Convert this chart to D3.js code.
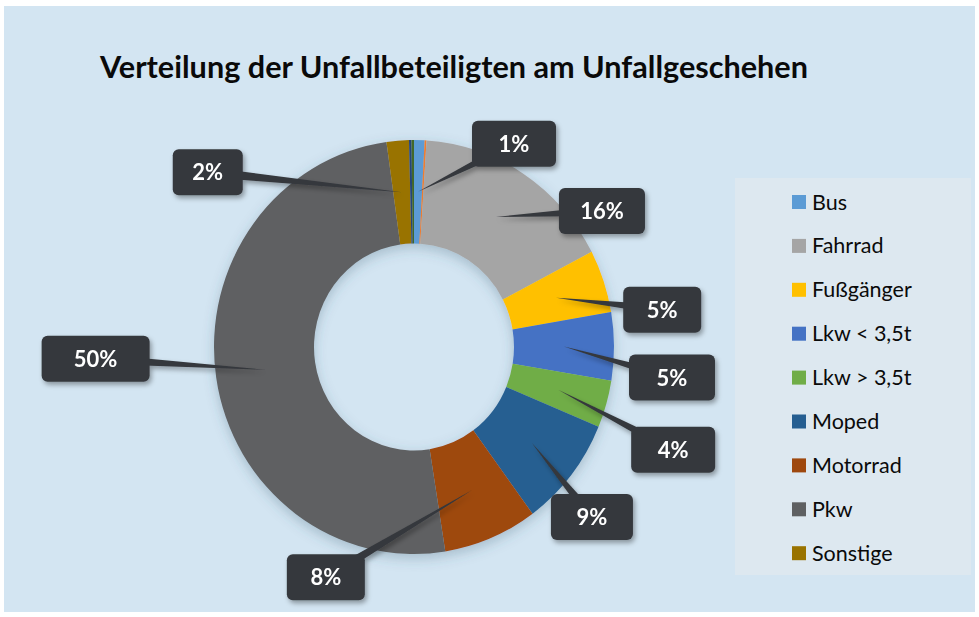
<!DOCTYPE html>
<head>
<meta charset="utf-8">
<title>Verteilung der Unfallbeteiligten</title>
<script src="https://cdn.jsdelivr.net/npm/d3@7"></script>
<style>
body { margin:0; background:#fff; }
text { font-family: Lato, "Open Sans", sans-serif; }
</style>
</head>
<body>
<script>
// data (shares in %); empty names = tiny slices without legend entry
var categories = ["Bus", "", "Fahrrad", "Fußgänger", "Lkw < 3,5t", "Lkw > 3,5t", "Moped", "Motorrad", "Pkw", "Sonstige", "", ""];
var values     = [0.85, 0.15, 16.4, 4.9, 5.3, 3.7, 8.6, 7.6, 50.3, 1.8, 0.2, 0.2];
var colors     = ["#5b9bd5", "#ed7d31", "#a5a5a5", "#ffc000", "#4472c4", "#70ad47", "#255e91", "#9e480e", "#5e6062", "#997300", "#264478", "#43682b"];
var title = "Verteilung der Unfallbeteiligten am Unfallgeschehen";

// callout box offsets from slice centroid, and box widths (manual label placement)
var labelOffsets = [[96,-48], null, [106,-6], [106,12], [108,31], [115,60], [60,74], [-146,87], [-170,-11], [-194,-20], null, null];
var labelWidths  = [84, 0, 86, 78, 86, 84, 82, 78, 108, 70, 0, 0];

var width = 979, height = 617;
var cx = 414, cy = 347, sy = 1.035;

var svg = d3.select("body").append("svg")
  .attr("width", width)
  .attr("height", height);

var defs = svg.append("defs");
var f = defs.append("filter").attr("id", "shadow").attr("x", "-30%").attr("y", "-30%").attr("width", "160%").attr("height", "160%");
f.append("feDropShadow").attr("dx", 2).attr("dy", 3).attr("stdDeviation", 2.5).attr("flood-color", "#000").attr("flood-opacity", 0.35);
var f2 = defs.append("filter").attr("id", "pieshadow").attr("x", "-20%").attr("y", "-20%").attr("width", "140%").attr("height", "140%");
f2.append("feDropShadow").attr("dx", 0).attr("dy", 4).attr("stdDeviation", 6).attr("flood-color", "#3a5a70").attr("flood-opacity", 0.3);

// background
svg.append("rect").attr("x", 4).attr("y", 6).attr("width", 971).attr("height", 606).attr("fill", "#d3e5f2");

svg.append("text")
  .attr("x", 100).attr("y", 78)
  .attr("font-size", 30).attr("font-weight", "bold")
  .attr("textLength", 708).attr("lengthAdjust", "spacingAndGlyphs")
  .attr("fill", "#0a0a0a")
  .text(title);

var data = categories.map(function(c, i) { return {name: c, value: values[i], color: colors[i], off: labelOffsets[i], w: labelWidths[i]}; });

var pie = d3.pie().sort(null).value(function(d) { return d.value; });
var arcs = pie(data);
var arc = d3.arc().innerRadius(100).outerRadius(200);

var g = svg.append("g")
  .attr("transform", "translate(" + cx + "," + cy + ") scale(1," + sy + ")")
  .attr("filter", "url(#pieshadow)");
g.selectAll("path")
  .data(arcs).enter().append("path")
  .attr("d", arc)
  .attr("fill", function(d) { return d.data.color; });

// callouts
var total = d3.sum(values);
var lab = svg.append("g");
arcs.forEach(function(d) {
  if (!d.data.off) return;
  var c = arc.centroid(d);
  var tx = cx + c[0], ty = cy + c[1] * sy;
  var bx = tx + d.data.off[0], by = ty + d.data.off[1];
  var txt = Math.round(d.data.value / total * 100) + "%";
  var bw = d.data.w, bh = 46;
  // pointer
  var dx = tx - bx, dy = ty - by, len = Math.sqrt(dx*dx + dy*dy);
  var nx = -dy / len * 5, ny = dx / len * 5;
  var cell = lab.append("g").attr("filter", "url(#shadow)");
  cell.append("path")
    .attr("d", "M" + (bx + nx) + "," + (by + ny) + "L" + tx + "," + ty + "L" + (bx - nx) + "," + (by - ny) + "Z")
    .attr("fill", "#35383d");
  cell.append("rect")
    .attr("x", bx - bw/2).attr("y", by - bh/2)
    .attr("width", bw).attr("height", bh)
    .attr("rx", 6)
    .attr("fill", "#35383d");
  cell.append("text")
    .attr("x", bx).attr("y", by + 8)
    .attr("text-anchor", "middle")
    .attr("font-size", 22).attr("font-weight", "bold")
    .attr("fill", "#fff")
    .text(txt);
});

// legend
var legendItems = data.filter(function(d) { return d.name !== ""; });
svg.append("rect").attr("x", 735).attr("y", 178).attr("width", 236).attr("height", 397).attr("fill", "#dde8f0");
var leg = svg.selectAll(".leg")
  .data(legendItems).enter().append("g")
  .attr("transform", function(d, i) { return "translate(792," + (202 + i * 43.9) + ")"; });
leg.append("rect").attr("x", 0).attr("y", -7).attr("width", 14).attr("height", 14).attr("fill", function(d) { return d.color; });
leg.append("text").attr("x", 20).attr("y", 7.5).attr("font-size", 21.5).attr("fill", "#0a0a0a").text(function(d) { return d.name; });
</script>
</body>
